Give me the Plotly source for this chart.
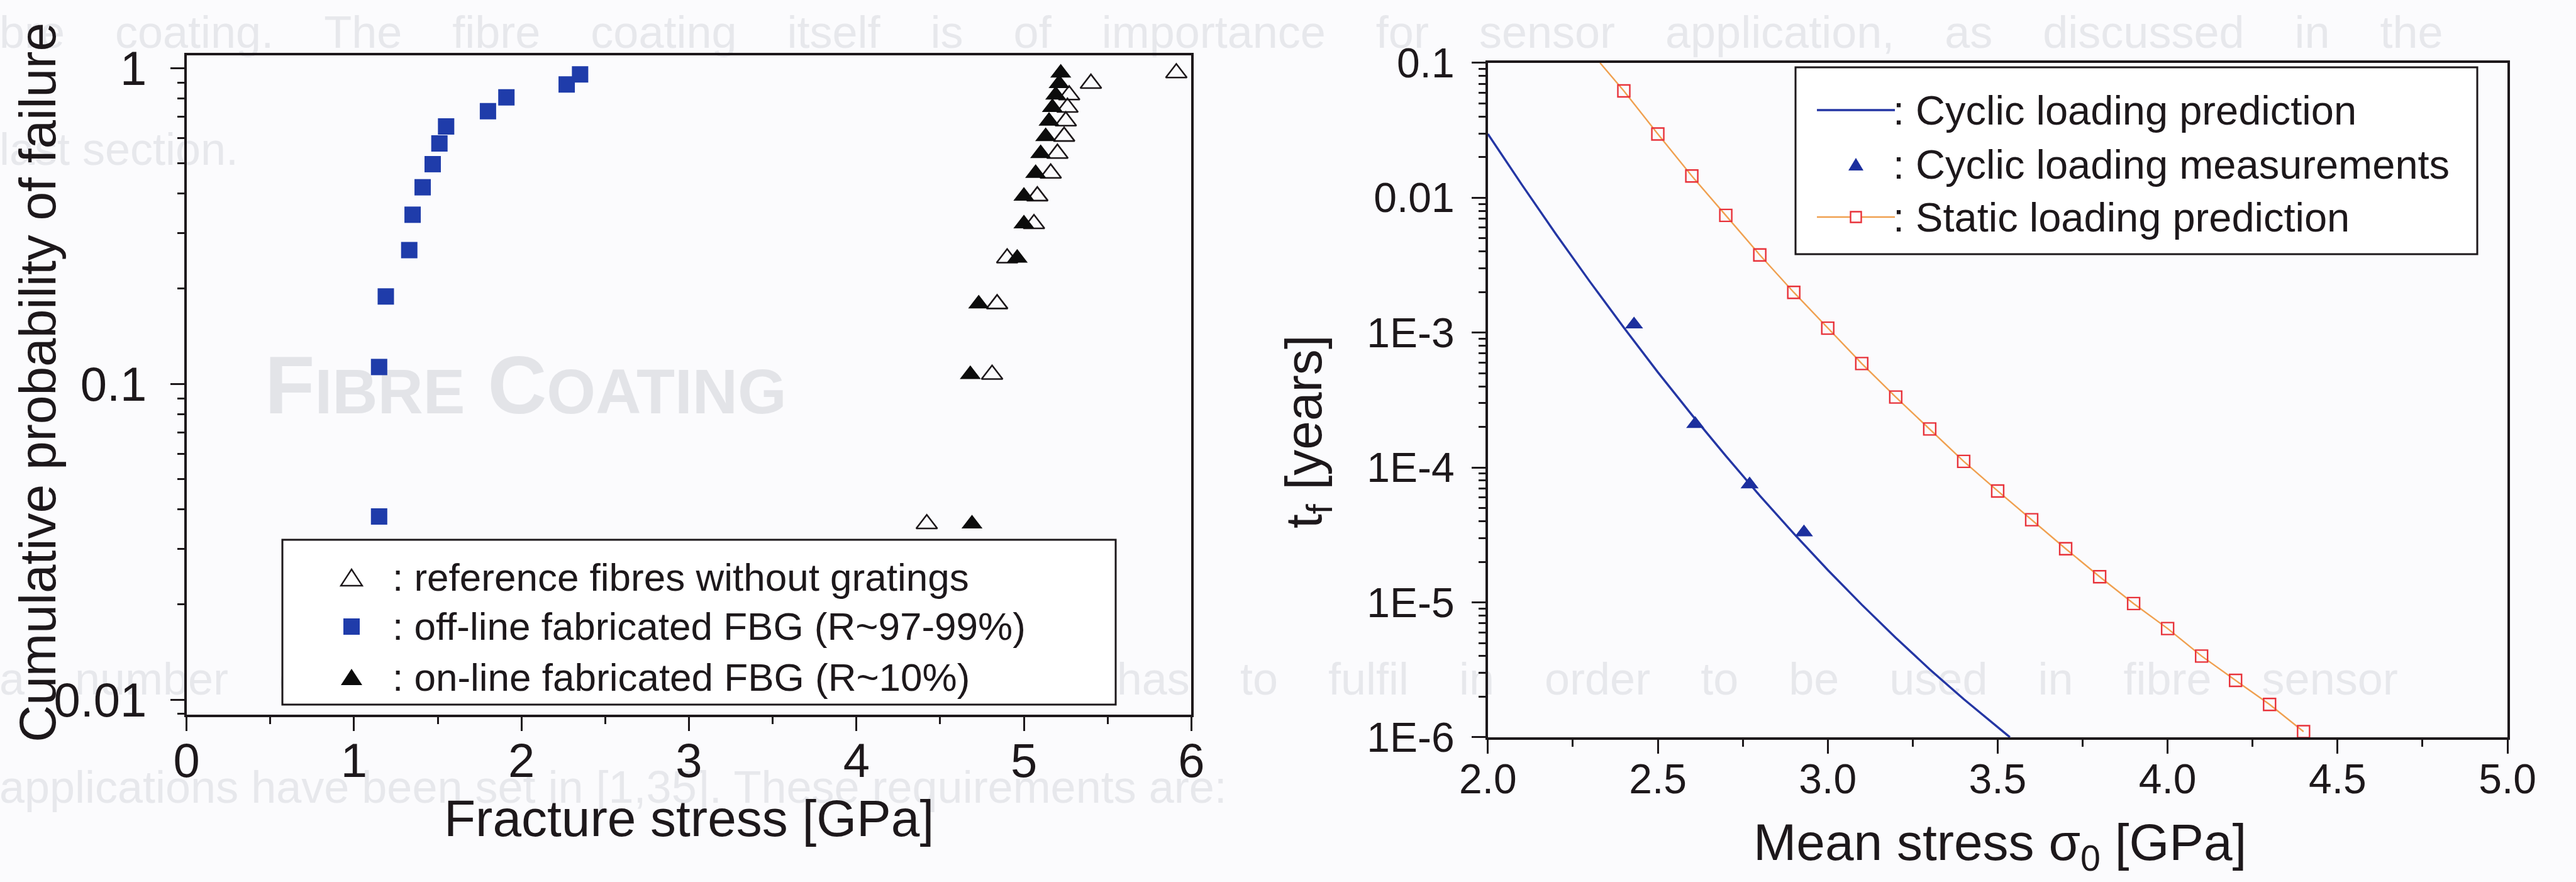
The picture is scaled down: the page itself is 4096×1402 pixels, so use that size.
import plotly.graph_objects as go

W, H = 4096, 1402
FONT = "Liberation Sans, Arial, Helvetica, sans-serif"
INK = "#1d181b"
PAPER = "#fbfbfd"
GHOST = "#e7e8ec"
BLUE_SQ = "#1f3caa"
BLUE_LINE = "#2436a4"
BLUE_TRI = "#1c2f9e"
ORANGE = "#f0a050"
RED = "#e8323a"

# ---------------- Left panel: cumulative failure probability ----------------
offline_stress = [1.15, 1.15, 1.19, 1.33, 1.35, 1.41, 1.47, 1.51, 1.55, 1.80, 1.91, 2.27, 2.35]
offline_prob = [0.038, 0.113, 0.189, 0.265, 0.343, 0.419, 0.496, 0.577, 0.653, 0.730, 0.807, 0.887, 0.954]

ref_stress = [4.42, 4.81, 4.84, 4.90, 5.06, 5.08, 5.16, 5.20, 5.24, 5.25, 5.26, 5.27, 5.40, 5.91]
ref_prob = [0.036, 0.107, 0.179, 0.250, 0.321, 0.393, 0.464, 0.536, 0.607, 0.679, 0.750, 0.821, 0.893, 0.964]

online_stress = [4.69, 4.68, 4.73, 4.96, 5.00, 5.00, 5.07, 5.10, 5.13, 5.15, 5.17, 5.19, 5.21, 5.22]
online_prob = [0.036, 0.107, 0.179, 0.250, 0.321, 0.393, 0.464, 0.536, 0.607, 0.679, 0.750, 0.821, 0.893, 0.964]

left_y_ticks = [0.01, 0.1, 1]
left_y_ticktext = ["0.01", "0.1", "1"]
left_legend_labels = [": reference fibres without gratings",
                      ": off-line fabricated FBG (R~97-99%)",
                      ": on-line fabricated FBG (R~10%)"]

# ---------------- Right panel: time to failure vs mean stress ----------------
cyclic_sigma = [2.0, 2.1, 2.2, 2.3, 2.4, 2.5, 2.6, 2.7, 2.8, 2.9, 3.0, 3.1, 3.2, 3.3, 3.4, 3.5, 3.536]
cyclic_t = [2.97e-2, 1.25e-2, 5.38e-3, 2.39e-3, 1.09e-3, 5.09e-4, 2.46e-4, 1.22e-4, 6.19e-5,
            3.24e-5, 1.74e-5, 9.62e-6, 5.47e-6, 3.19e-6, 1.92e-6, 1.18e-6, 1.0e-6]

meas_sigma = [2.43, 2.61, 2.77, 2.93]
meas_t = [1.15e-3, 2.1e-4, 7.5e-5, 3.3e-5]

static_sigma = [2.4, 2.5, 2.6, 2.7, 2.8, 2.9, 3.0, 3.1, 3.2, 3.3, 3.4,
                3.5, 3.6, 3.7, 3.8, 3.9, 4.0, 4.1, 4.2, 4.3, 4.4]
static_t = [6.2e-2, 2.97e-2, 1.45e-2, 7.4e-3, 3.77e-3, 1.99e-3, 1.08e-3, 5.9e-4, 3.33e-4, 1.93e-4, 1.11e-4,
            6.7e-5, 4.1e-5, 2.5e-5, 1.55e-5, 9.8e-6, 6.4e-6, 4.0e-6, 2.64e-6, 1.75e-6, 1.1e-6]
static_line_start = (2.33, 0.1)

right_y_ticks = [1e-6, 1e-5, 1e-4, 1e-3, 1e-2, 1e-1]
right_y_ticktext = ["1E-6", "1E-5", "1E-4", "1E-3", "0.01", "0.1"]
right_legend_labels = [": Cyclic loading prediction",
                       ": Cyclic loading measurements",
                       ": Static loading prediction"]

# faint show-through text of the printed page
page_lines = [
    "bre coating. The fibre coating itself is of importance for sensor application, as discussed in the",
    "last section.",
    "a number of requirements that the coating has to fulfil in order to be used in fibre sensor",
    "applications have been set in [1,35]. These requirements are:",
]


def minor_log(decades):
    return [m * 10.0 ** d for d in decades for m in range(2, 10)]


def px(x):
    return x / W


def py(y):
    return 1 - y / H


fig = go.Figure()

# ---- data traces ----
fig.add_trace(go.Scatter(
    x=ref_stress, y=ref_prob, mode="markers", name="reference fibres without gratings",
    marker=dict(symbol="triangle-up-open", size=29, color=INK, line=dict(width=2.6, color=INK)),
    xaxis="x", yaxis="y"))
fig.add_trace(go.Scatter(
    x=offline_stress, y=offline_prob, mode="markers", name="off-line fabricated FBG",
    marker=dict(symbol="square", size=26, color=BLUE_SQ, line=dict(width=0)),
    xaxis="x", yaxis="y"))
fig.add_trace(go.Scatter(
    x=online_stress, y=online_prob, mode="markers", name="on-line fabricated FBG",
    marker=dict(symbol="triangle-up", size=29, color="#0c0c0c", line=dict(width=0)),
    xaxis="x", yaxis="y"))

fig.add_trace(go.Scatter(
    x=cyclic_sigma, y=cyclic_t, mode="lines", name="Cyclic loading prediction",
    line=dict(color=BLUE_LINE, width=3.4), xaxis="x2", yaxis="y2"))
fig.add_trace(go.Scatter(
    x=meas_sigma, y=meas_t, mode="markers", name="Cyclic loading measurements",
    marker=dict(symbol="triangle-up", size=25, color=BLUE_TRI, line=dict(width=0)),
    xaxis="x2", yaxis="y2"))
fig.add_trace(go.Scatter(
    x=[static_line_start[0]] + static_sigma, y=[static_line_start[1]] + static_t, mode="lines",
    name="Static loading prediction", line=dict(color=ORANGE, width=2.4),
    xaxis="x2", yaxis="y2"))
fig.add_trace(go.Scatter(
    x=static_sigma, y=static_t, mode="markers", name="Static loading prediction",
    marker=dict(symbol="square-open", size=19, color=RED, line=dict(width=2.4, color=RED)),
    xaxis="x2", yaxis="y2"))

axis_common = dict(
    showline=True, linecolor=INK, linewidth=4, mirror=True,
    ticks="outside", ticklen=22, tickwidth=3, tickcolor=INK,
    showgrid=False, zeroline=False, automargin=False,
)
minor_common = dict(ticks="outside", ticklen=11, tickwidth=3, tickcolor=INK)

fig.update_layout(
    width=W, height=H, autosize=False, showlegend=False,
    margin=dict(l=0, r=0, t=0, b=0, pad=0),
    paper_bgcolor=PAPER, plot_bgcolor="rgba(0,0,0,0)",
    font=dict(family=FONT, color=INK),
    xaxis=dict(**axis_common, domain=[0.0724, 0.4625], range=[0, 6], anchor="y",
               tickmode="linear", tick0=0, dtick=1,
               minor=dict(dtick=0.5, **minor_common),
               tickfont=dict(family=FONT, size=76, color=INK), ticklabelstandoff=-18),
    yaxis=dict(**axis_common, domain=[0.19, 0.9369], type="log", range=[-2.047, 0.039], anchor="x",
               tickmode="array", tickvals=left_y_ticks, ticktext=left_y_ticktext,
               minor=dict(tickmode="array", tickvals=minor_log([-3, -2, -1]), **minor_common),
               tickfont=dict(family=FONT, size=76, color=INK), ticklabelstandoff=22),
    xaxis2=dict(**axis_common, domain=[0.5776, 0.9734], range=[2, 5], anchor="y2",
                tickmode="linear", tick0=2, dtick=0.5, tickformat=".1f",
                minor=dict(dtick=0.25, **minor_common),
                tickfont=dict(family=FONT, size=66, color=INK), ticklabelstandoff=-16),
    yaxis2=dict(**axis_common, domain=[0.1641, 0.9287], type="log", range=[-6, -1], anchor="x2",
                tickmode="array", tickvals=right_y_ticks, ticktext=right_y_ticktext,
                minor=dict(tickmode="array", tickvals=minor_log([-6, -5, -4, -3, -2]), **minor_common),
                tickfont=dict(family=FONT, size=66, color=INK), ticklabelstandoff=14),
)

# ---- axis titles ----
title_font = dict(family=FONT, size=82, color=INK)
fig.add_annotation(text="Fracture stress [GPa]", x=px(1095), y=py(1300), xref="paper", yref="paper",
                   showarrow=False, xanchor="center", yanchor="middle", font=title_font)
fig.add_annotation(text="Cumulative probability of failure", x=px(59), y=py(608),
                   xref="paper", yref="paper", showarrow=False, textangle=-90,
                   xanchor="center", yanchor="middle", font=title_font)
fig.add_annotation(text="Mean stress σ<sub>0</sub> [GPa]", x=px(3180), y=py(1344),
                   xref="paper", yref="paper", showarrow=False, xanchor="center", yanchor="middle",
                   font=title_font)
fig.add_annotation(text="t<sub>f</sub> [years]", x=px(2079), y=py(686),
                   xref="paper", yref="paper", showarrow=False, textangle=-90,
                   xanchor="center", yanchor="middle", font=title_font)


# ---- boxed keys in the Origin style ----
def key_box(x0, x1, y0, y1):
    fig.add_shape(type="rect", xref="paper", yref="paper", x0=px(x0), x1=px(x1), y0=py(y1), y1=py(y0),
                  line=dict(color=INK, width=3), fillcolor="#ffffff", layer="above")


def key_triangle(cx, cy, w, h, color, filled):
    path = (f"M {px(cx - w / 2)},{py(cy + h / 2)} L {px(cx + w / 2)},{py(cy + h / 2)} "
            f"L {px(cx)},{py(cy - h / 2)} Z")
    fig.add_shape(type="path", xref="paper", yref="paper", path=path,
                  line=dict(color=color, width=2.4 if not filled else 0),
                  fillcolor=color if filled else "rgba(0,0,0,0)", layer="above")


def key_square(cx, cy, s, color, filled):
    fig.add_shape(type="rect", xref="paper", yref="paper",
                  x0=px(cx - s / 2), x1=px(cx + s / 2), y0=py(cy + s / 2), y1=py(cy - s / 2),
                  line=dict(color=color, width=0 if filled else 2.4),
                  fillcolor=color if filled else "#ffffff", layer="above")


def key_line(xa, xb, cy, color, width):
    fig.add_shape(type="line", xref="paper", yref="paper", x0=px(xa), x1=px(xb), y0=py(cy), y1=py(cy),
                  line=dict(color=color, width=width), layer="above")


def key_text(x, cy, text, size):
    fig.add_annotation(text=text, x=px(x), y=py(cy), xref="paper", yref="paper", showarrow=False,
                       xanchor="left", yanchor="middle",
                       font=dict(family=FONT, size=size, color=INK))


# left panel key
left_rows = [918, 996, 1076]
key_box(449, 1774, 858, 1120)
key_triangle(559, left_rows[0], 34, 26, INK, False)
key_square(559, left_rows[1], 26, BLUE_SQ, True)
key_triangle(559, left_rows[2], 34, 26, "#0c0c0c", True)
for row, label in zip(left_rows, left_legend_labels):
    key_text(622, row, label, 62)

# right panel key
right_rows = [175, 261, 345]
key_box(2855, 3939, 107, 404)
key_line(2889, 3013, right_rows[0], BLUE_LINE, 3.4)
key_triangle(2951, right_rows[1], 24, 20, BLUE_TRI, True)
key_line(2889, 3013, right_rows[2], ORANGE, 2.4)
key_square(2951, right_rows[2], 17, RED, False)
for row, label in zip(right_rows, right_legend_labels):
    key_text(3008, row, label, 65)


# ---- show-through of the page text, kept underneath everything ----
def spread(text, pad):
    # widen the word gaps the way a justified printed line does
    return (" " + "\u00a0" * pad).join(text.split(" "))


ghost_font = dict(family=FONT, size=72, color=GHOST)
ghost_rows = [44, 230, 1072, 1244]
ghost_pads = [3, 0, 3, 0]
for text, row, pad in zip(page_lines, ghost_rows, ghost_pads):
    fig.add_shape(type="rect", xref="paper", yref="paper", x0=-0.001, x1=0.99,
                  y0=py(row + 30), y1=py(row - 30), line=dict(width=0),
                  fillcolor="rgba(0,0,0,0)", layer="below",
                  label=dict(text=spread(text, pad), font=ghost_font, textposition="middle left", padding=0))
fig.add_shape(type="rect", xref="paper", yref="paper", x0=px(418), x1=0.4,
              y0=py(650), y1=py(550), line=dict(width=0),
              fillcolor="rgba(0,0,0,0)", layer="below",
              label=dict(text="<b>F<span style='font-size:100px'>IBRE</span> C<span style='font-size:100px'>OATING</span></b>",
                         font=dict(family=FONT, size=130, color="#e3e4e8"),
                         textposition="middle left", padding=0))

fig.write_html("out.html")
